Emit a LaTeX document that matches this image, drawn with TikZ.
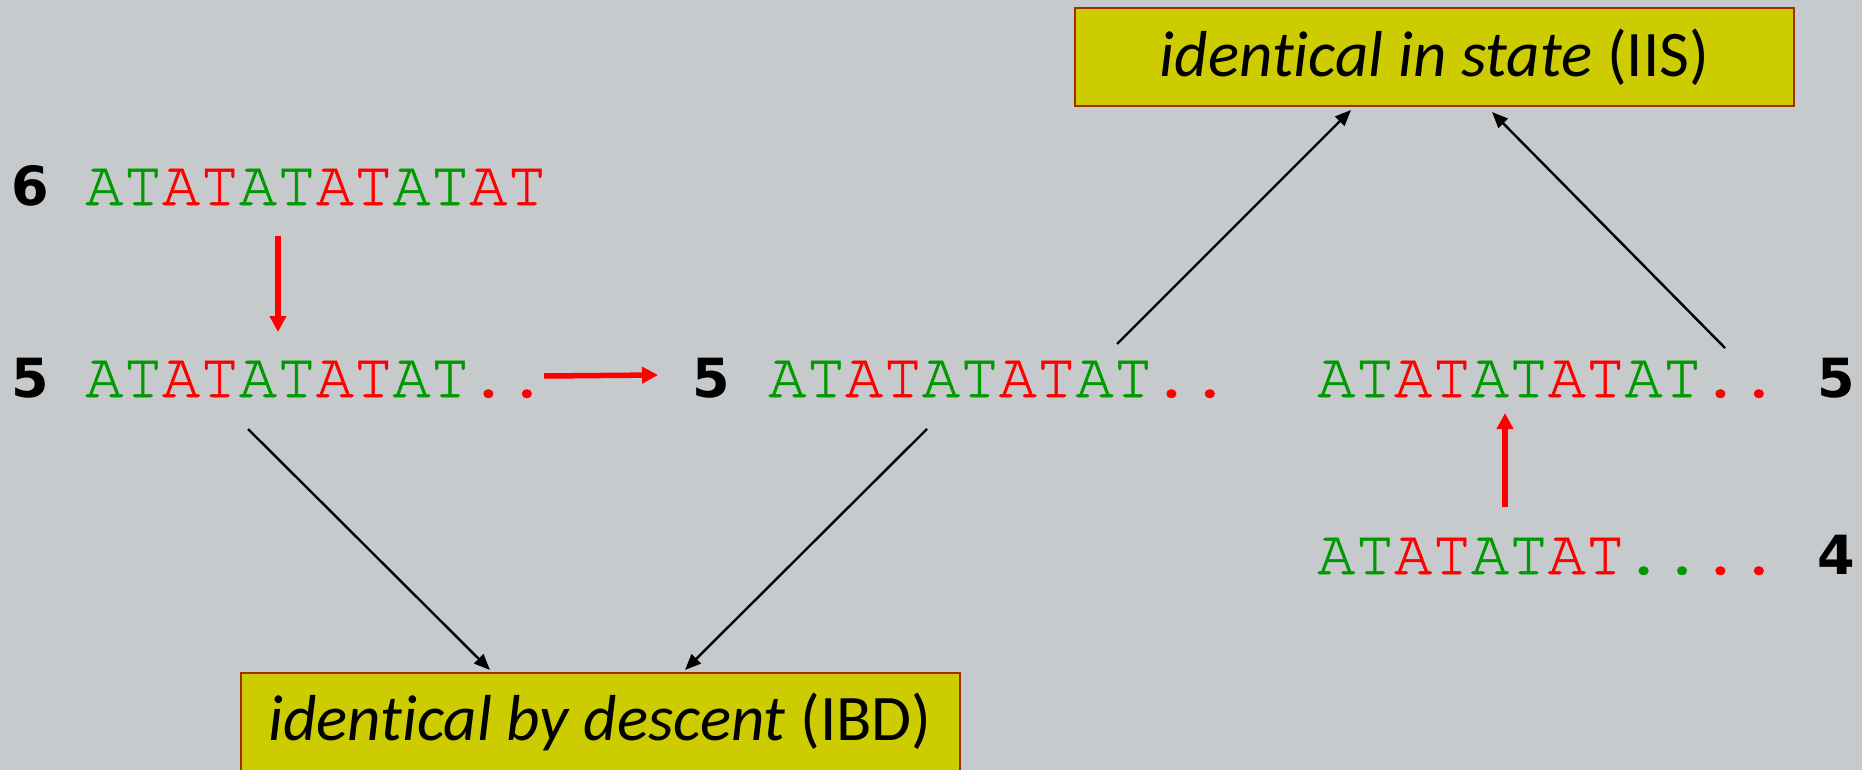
\documentclass[tikz,border=0pt]{standalone}
\usepackage{fontspec}
\usetikzlibrary{arrows.meta}
\newfontfamily\seqfont[FakeBold=0.8]{TeX Gyre Cursor}
\newfontfamily\numfont{DejaVu Sans}
\newfontfamily\boxfont[Ligatures=NoCommon]{Carlito}
\definecolor{bg}{HTML}{C6CACD}
\definecolor{gr}{HTML}{009900}
\definecolor{rd}{HTML}{FF0000}
\definecolor{boxfill}{HTML}{CCCC00}
\definecolor{boxline}{HTML}{A03000}
\newcommand{\Gr}[1]{\textcolor{gr}{#1}}
\newcommand{\Rd}[1]{\textcolor{rd}{#1}}
\begin{document}
\begin{tikzpicture}[x=1pt,y=-1pt,
  seq/.style={anchor=base west, inner sep=0pt, font=\seqfont\fontsize{64}{70}\selectfont},
  num/.style={anchor=base west, inner sep=0pt, font=\numfont\bfseries\fontsize{54}{60}\selectfont},
  labelbox/.style={draw=boxline, line width=2pt, fill=boxfill, minimum width=719pt, minimum height=98pt, inner sep=0pt, font=\boxfont\fontsize{65}{70}\selectfont},
  blk/.style={draw=black, line width=2.4pt, -{Triangle[length=16pt,width=13pt]}},
  redarr/.style={draw=rd, line width=5.5pt, -{Triangle[length=16pt,width=16pt]}}]
\fill[bg] (0,0) rectangle (1862,770);
\useasboundingbox (0,0) rectangle (1862,770);
% boxes
\node[labelbox] (iis) at (1434.5,57) {\textit{identical in state} (IIS)};
\node[labelbox] (ibd) at (600,722) {\textit{identical by descent} (IBD)};
% sequences
\node[num] (n6) at (11,205) {6};
\node[seq] (s6) at (85,205) {\Gr{AT}\Rd{AT}\Gr{AT}\Rd{AT}\Gr{AT}\Rd{AT}};
\node[num] (n5a) at (11,397) {5};
\node[seq] (s5a) at (85,397) {\Gr{AT}\Rd{AT}\Gr{AT}\Rd{AT}\Gr{AT}\Rd{..}};
\node[num] (n5b) at (692,397) {5};
\node[seq] (s5b) at (768,397) {\Gr{AT}\Rd{AT}\Gr{AT}\Rd{AT}\Gr{AT}\Rd{..}};
\node[seq] (s5c) at (1317,397) {\Gr{AT}\Rd{AT}\Gr{AT}\Rd{AT}\Gr{AT}\Rd{..}};
\node[num] (n5c) at (1817,397) {5};
\node[seq] (s4) at (1317,574) {\Gr{AT}\Rd{AT}\Gr{AT}\Rd{AT}\Gr{..}\Rd{..}};
\node[num] (n4) at (1817,574) {4};
% connector ends
\coordinate (r1s) at (278,236);
\coordinate (r1e) at (278,332);
\coordinate (r2s) at (544,376);
\coordinate (r2e) at (658,375);
\coordinate (r3s) at (1505,507);
\coordinate (r3e) at (1505,413);
\coordinate (a1s) at (248,429);
\coordinate (a1e) at (490,670);
\coordinate (a2s) at (927,429);
\coordinate (a2e) at (685,670);
\coordinate (a3s) at (1117,344);
\coordinate (a3e) at (1351,110);
\coordinate (a4s) at (1725,348);
\coordinate (a4e) at (1492,112);
% red arrows
\draw[redarr] (r1s) -- (r1e);
\draw[redarr] (r2s) -- (r2e);
\draw[redarr] (r3s) -- (r3e);
% black arrows
\draw[blk] (a1s) -- (a1e);
\draw[blk] (a2s) -- (a2e);
\draw[blk] (a3s) -- (a3e);
\draw[blk] (a4s) -- (a4e);
\end{tikzpicture}
\end{document}
